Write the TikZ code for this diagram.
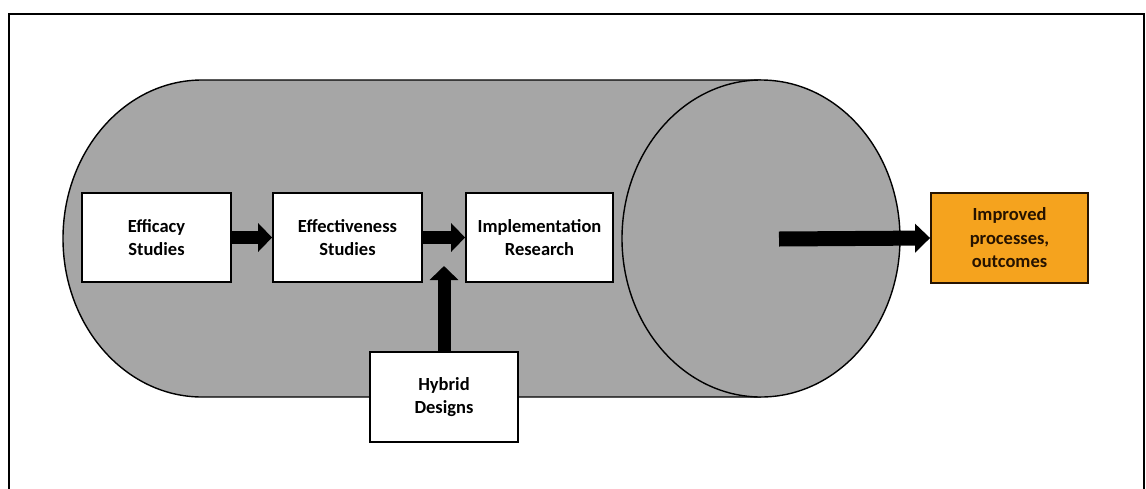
\documentclass[tikz,border=0pt]{standalone}
\usepackage{fontspec}
\setmainfont{Carlito}
\usetikzlibrary{arrows.meta}
\definecolor{cylgray}{RGB}{166,166,166}
\definecolor{outorange}{RGB}{245,163,30}
\tikzset{
  stagebox/.style={draw=black, line width=1.8pt, fill=white, minimum width=148pt, minimum height=89pt,
    align=center, inner sep=2pt, font=\fontsize{18.5}{23.5}\selectfont\bfseries},
  fatarrow/.style={line width=13pt, -{Triangle[width=28pt,length=14pt]}},
  bigarrow/.style={line width=15pt, -{Triangle[width=28pt,length=15pt]}},
}
\begin{document}
\begin{tikzpicture}[x=1pt,y=-1pt]
\useasboundingbox (0,0) rectangle (1146,488);
% frame
\draw[line width=2.5pt] (9,14) rectangle (1144,500);
% cylinder body
\path[fill=cylgray, draw=black, line width=1.4pt]
  (761,80) -- (202,80)
  arc[start angle=-90, end angle=-270, x radius=139, y radius=158.5]
  -- (761,397);
\draw[fill=cylgray, line width=1.4pt] (761,238.5) ellipse [x radius=139, y radius=158.5];
% boxes
\node[stagebox, minimum width=149pt] (eff) at (156.5,237.5) {Efficacy\\Studies};
\node[stagebox, minimum width=149pt] (effv) at (347.5,237.5) {Effectiveness\\Studies};
\node[stagebox, minimum width=147pt] (impl) at (539.5,237.5) {Implementation\\Research};
\node[stagebox, minimum height=90pt] (hyb) at (444,397) {Hybrid\\Designs};
\node[stagebox, fill=outorange, draw=black!85!orange, minimum width=157pt, minimum height=90pt,
  text=black!85!orange] (out) at (1009.5,238) {Improved\\processes,\\outcomes};
% arrows
\coordinate (hybtip) at (444,266);
\coordinate (bigstart) at (779,239);
\draw[fatarrow] (eff.east) -- (effv.west);
\draw[fatarrow] (effv.east) -- (impl.west);
\draw[fatarrow] (hyb.north) -- (hybtip);
\draw[bigarrow] (bigstart) -- (out.west);
\end{tikzpicture}
\end{document}
